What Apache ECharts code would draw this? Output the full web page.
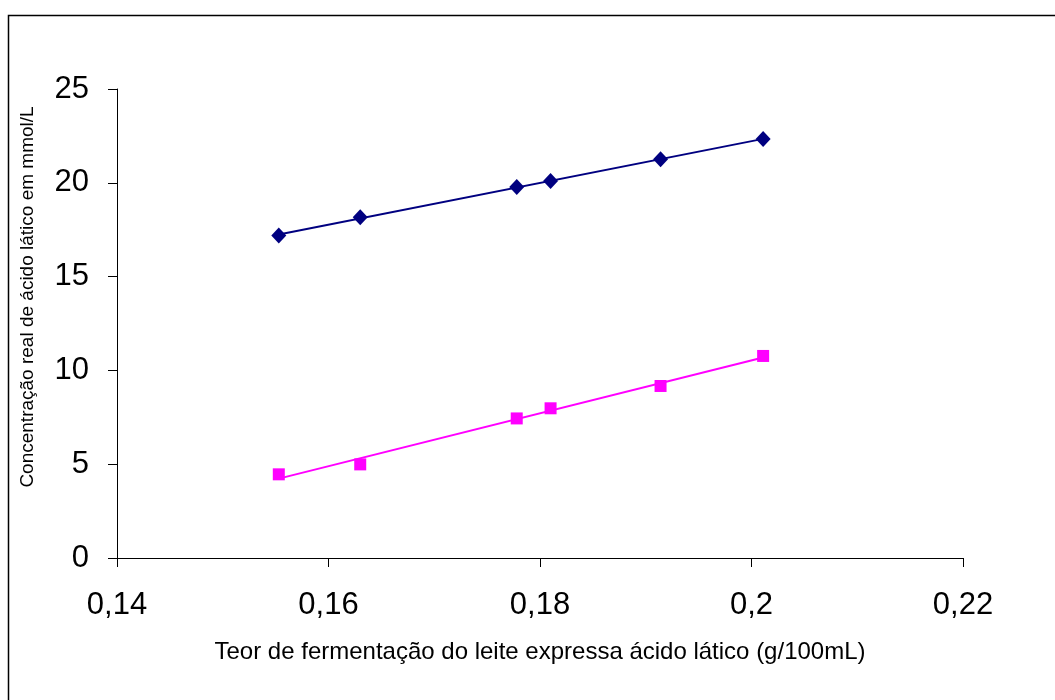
<!DOCTYPE html>
<html>
<head>
<meta charset="utf-8">
<script src="https://cdn.jsdelivr.net/npm/echarts@6/dist/echarts.min.js"></script>
<style>
html,body{margin:0;padding:0;background:#fff;}
#chart{width:1055px;height:700px;}
</style>
</head>
<body>
<div id="chart"></div>
<script>
// Data
var xValues = [0.1553, 0.1630, 0.1778, 0.1810, 0.1914, 0.2011];
var blueValues = [17.19, 18.17, 19.77, 20.09, 21.26, 22.33];
var pinkValues = [4.46, 4.99, 7.44, 7.98, 9.17, 10.77];
var xTicks = [0.14, 0.16, 0.18, 0.2, 0.22];
var yTicks = [0, 5, 10, 15, 20, 25];
var xTitle = 'Teor de fermentação do leite expressa ácido lático (g/100mL)';
var yTitle = 'Concentração real de ácido lático em mmol/L';

function pairs(xs, ys) { return xs.map(function (x, i) { return [x, ys[i]]; }); }
function trend(xs, ys) {
  var n = xs.length, sx = 0, sy = 0, sxx = 0, sxy = 0;
  for (var i = 0; i < n; i++) { sx += xs[i]; sy += ys[i]; sxx += xs[i]*xs[i]; sxy += xs[i]*ys[i]; }
  var b = (n*sxy - sx*sy) / (n*sxx - sx*sx), a = (sy - b*sx) / n;
  var x0 = Math.min.apply(null, xs), x1 = Math.max.apply(null, xs);
  return [[x0, a + b*x0], [x1, a + b*x1]];
}

var font = 'Liberation Sans, Arial, sans-serif';
var chart = echarts.init(document.getElementById('chart'), null, {renderer: 'canvas'});
chart.setOption({
  backgroundColor: '#fff',
  animation: false,
  grid: {left: 117, top: 89, right: 92, bottom: 142, containLabel: false},
  xAxis: {
    type: 'value', min: xTicks[0], max: xTicks[xTicks.length-1], interval: 0.02,
    name: xTitle, nameLocation: 'middle', nameGap: 82,
    nameTextStyle: {fontFamily: font, fontSize: 24, color: '#000'},
    axisLine: {lineStyle: {color: '#000', width: 1}},
    axisTick: {show: true, length: 9, lineStyle: {color: '#000'}},
    axisLabel: {fontFamily: font, fontSize: 31, color: '#000', margin: 32,
      formatter: function (v) { return String(+v.toFixed(2)).replace('.', ','); }},
    splitLine: {show: false}
  },
  yAxis: {
    type: 'value', min: yTicks[0], max: yTicks[yTicks.length-1], interval: 5,
    axisLine: {show: true, lineStyle: {color: '#000', width: 1}},
    axisTick: {show: true, length: 9, lineStyle: {color: '#000'}},
    axisLabel: {fontFamily: font, fontSize: 31, color: '#000', margin: 28},
    splitLine: {show: false}
  },
  graphic: [
    {type: 'rect', shape: {x: 8.5, y: 15.5, width: 1100, height: 800},
      style: {fill: 'none', stroke: '#000', lineWidth: 1.5}, silent: true},
    {type: 'text', x: 28, y: 297, rotation: Math.PI/2,
      style: {text: yTitle, font: '19px ' + font, fill: '#000', align: 'center', verticalAlign: 'middle'}}
  ],
  series: [
    {type: 'line', data: trend(xValues, blueValues), showSymbol: false, symbol: 'none',
      lineStyle: {color: '#000080', width: 2}, z: 2},
    {type: 'line', data: trend(xValues, pinkValues), showSymbol: false, symbol: 'none',
      lineStyle: {color: '#FF00FF', width: 2}, z: 2},
    {type: 'scatter', data: pairs(xValues, blueValues), symbol: 'diamond', symbolSize: [15, 16],
      itemStyle: {color: '#000080', opacity: 1}, z: 3},
    {type: 'scatter', data: pairs(xValues, pinkValues), symbol: 'rect', symbolSize: 12,
      itemStyle: {color: '#FF00FF', opacity: 1}, z: 3}
  ]
});
</script>
</body>
</html>
